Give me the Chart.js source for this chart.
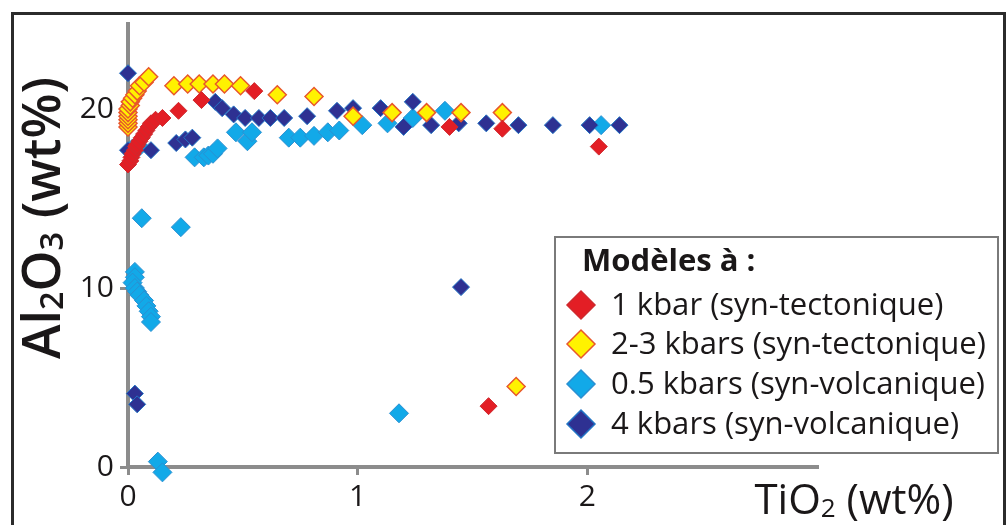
<!DOCTYPE html>
<html>
<head>
<title>Al2O3 vs TiO2</title>
<script src="https://cdn.jsdelivr.net/npm/chart.js"></script>
<style>
  html, body { margin: 0; padding: 0; background: #fff; }
</style>
</head>
<body>
<canvas id="chart" width="1008" height="525"></canvas>

<script>
// values: TiO2 (wt%) on x, Al2O3 (wt%) on y
const kbar1Ti = [0.00, 0.01, 0.015, 0.02, 0.03, 0.035, 0.04, 0.05, 0.06, 0.07, 0.08, 0.09, 0.10, 0.12, 0.15, 0.22, 0.32, 0.55, 1.40, 1.63, 2.05, 1.57];
const kbar1Al = [16.9, 17.1, 17.3, 17.5, 17.7, 17.9, 18.0, 18.2, 18.4, 18.6, 18.8, 19.0, 19.2, 19.4, 19.5, 19.9, 20.5, 21.0, 19.0, 18.9, 17.9, 3.4];

const kbar23Ti = [0.00, 0.00, 0.00, 0.00, 0.00, 0.00, 0.01, 0.01, 0.02, 0.03, 0.04, 0.05, 0.07, 0.09, 0.20, 0.26, 0.31, 0.37, 0.42, 0.49, 0.65, 0.81, 0.98, 1.15, 1.30, 1.45, 1.63, 1.69];
const kbar23Al = [19.0, 19.2, 19.4, 19.6, 19.8, 20.0, 20.2, 20.4, 20.6, 20.8, 21.0, 21.3, 21.5, 21.8, 21.3, 21.4, 21.4, 21.4, 21.4, 21.3, 20.8, 20.7, 19.6, 19.8, 19.8, 19.8, 19.8, 4.5];

const kbar05Ti = [0.02, 0.05, 0.29, 0.33, 0.35, 0.37, 0.39, 0.47, 0.52, 0.54, 0.70, 0.75, 0.81, 0.87, 0.92, 1.02, 1.13, 1.24, 1.38, 2.06,
                  0.06, 0.23, 0.03, 0.03, 0.02, 0.03, 0.04, 0.05, 0.07, 0.08, 0.09, 0.10, 0.10, 1.18, 0.13, 0.15];
const kbar05Al = [17.8, 17.9, 17.3, 17.3, 17.4, 17.5, 17.8, 18.7, 18.2, 18.7, 18.4, 18.4, 18.5, 18.7, 18.8, 19.1, 19.2, 19.5, 19.9, 19.1,
                  13.9, 13.4, 10.9, 10.6, 10.3, 10.0, 9.8, 9.6, 9.3, 9.0, 8.7, 8.4, 8.1, 3.0, 0.3, -0.3];

const kbar4Ti = [0.00, 0.00, 0.10, 0.21, 0.25, 0.28, 0.38, 0.41, 0.46, 0.51, 0.57, 0.62, 0.68, 0.78, 0.91, 0.98, 1.10, 1.20, 1.24, 1.32, 1.44, 1.56, 1.70, 1.85, 2.01, 2.14, 1.45, 0.03, 0.04];
const kbar4Al = [22.0, 17.7, 17.7, 18.1, 18.3, 18.4, 20.4, 20.05, 19.7, 19.5, 19.5, 19.5, 19.5, 19.6, 19.9, 20.05, 20.05, 19.0, 20.4, 19.1, 19.2, 19.2, 19.1, 19.1, 19.1, 19.1, 10.05, 4.1, 3.5];

const seriesLabels = ['1 kbar (syn-tectonique)', '2-3 kbars (syn-tectonique)', '0.5 kbars (syn-volcanique)', '4 kbars (syn-volcanique)'];
const xTicks = [0, 1, 2];
const yTicks = [0, 10, 20];

const FONT = "'Open Sans', 'Noto Sans', sans-serif";
const AXIS_GRAY = '#8c8c8c';
const TEXT = '#1a1718';

function pts(xs, ys) {
  return xs.map((x, i) => ({ x: x, y: ys[i] }));
}

// width of a label whose digits are subscripts
function richText(ctx, parts, size, weight) {
  let w = 0;
  parts.forEach(p => {
    ctx.font = weight + ' ' + (p[1] ? size * 0.62 : size) + 'px ' + FONT;
    w += ctx.measureText(p[0]).width;
  });
  return w;
}
function drawRich(ctx, parts, size, weight, cx, cy) {
  const w = richText(ctx, parts, size, weight);
  let x = cx - w / 2;
  ctx.textBaseline = 'alphabetic';
  ctx.textAlign = 'left';
  parts.forEach(p => {
    ctx.font = weight + ' ' + (p[1] ? size * 0.62 : size) + 'px ' + FONT;
    ctx.fillText(p[0], x, cy + size * 0.36 + (p[1] ? size * 0.06 : 0));
    x += ctx.measureText(p[0]).width;
  });
}
function fitSize(ctx, parts, weight, target) {
  return 40 * target / richText(ctx, parts, 40, weight);
}

function diamond(ctx, x, y, r, fill, stroke, lw) {
  ctx.beginPath();
  ctx.moveTo(x, y - r);
  ctx.lineTo(x + r, y);
  ctx.lineTo(x, y + r);
  ctx.lineTo(x - r, y);
  ctx.closePath();
  ctx.fillStyle = fill;
  ctx.fill();
  ctx.lineWidth = lw;
  ctx.strokeStyle = stroke;
  ctx.stroke();
}

const framePlugin = {
  id: 'frame',
  beforeDraw(chart) {
    const ctx = chart.ctx;
    ctx.save();
    ctx.fillStyle = '#fff';
    ctx.fillRect(0, 0, chart.width, chart.height);
    ctx.restore();
  },
  afterDraw(chart) {
    const ctx = chart.ctx;
    ctx.save();
    ctx.strokeStyle = '#2b2b2b';
    ctx.lineWidth = 3;
    ctx.strokeRect(12.5, 13.5, 992, 600);

    // axis titles
    ctx.fillStyle = TEXT;
    const xt = [['TiO', false], ['2', true], [' (wt%)', false]];
    drawRich(ctx, xt, 42, '400', 854, 499);
    const yt = [['Al', false], ['2', true], ['O', false], ['3', true], [' (wt%)', false]];
    ctx.translate(41, 218);
    ctx.rotate(-Math.PI / 2);
    drawRich(ctx, yt, fitSize(ctx, yt, '600', 282), '600', 0, 0);
    ctx.restore();

    // legend box
    ctx.save();
    ctx.fillStyle = '#fff';
    ctx.fillRect(555, 237, 443, 216);
    ctx.strokeStyle = '#7a7a7a';
    ctx.lineWidth = 2;
    ctx.strokeRect(555, 237, 443, 216);
    ctx.font = '400 40px ' + FONT;
    const ls = 40 * 375 / ctx.measureText(seriesLabels[1]).width;
    ctx.fillStyle = TEXT;
    ctx.textBaseline = 'middle';
    ctx.textAlign = 'left';
    ctx.font = '700 ' + ls + 'px ' + FONT;
    ctx.fillText('Modèles à :', 582, 262);
    ctx.font = '400 ' + ls + 'px ' + FONT;
    const rows = [305, 344, 384, 424];
    chart.data.datasets.forEach((ds, i) => {
      diamond(ctx, 581, rows[i], 14, ds.backgroundColor, ds.borderColor, 1.5);
      ctx.fillStyle = TEXT;
      ctx.fillText(seriesLabels[i], 611, rows[i] + 1);
    });
    ctx.restore();
  }
};

new Chart(document.getElementById('chart'), {
  type: 'scatter',
  data: {
    datasets: [{
      label: seriesLabels[0],
      data: pts(kbar1Ti, kbar1Al),
      pointStyle: 'rectRot',
      pointRadius: 8.5,
      backgroundColor: '#e31e25',
      borderColor: '#cf2a2e',
      borderWidth: 1,
      order: 0,
      clip: false
    }, {
      label: seriesLabels[1],
      data: pts(kbar23Ti, kbar23Al),
      pointStyle: 'rectRot',
      pointRadius: 9,
      backgroundColor: '#fff200',
      borderColor: '#e8572b',
      borderWidth: 1.5,
      order: 1,
      clip: false
    }, {
      label: seriesLabels[2],
      data: pts(kbar05Ti, kbar05Al),
      pointStyle: 'rectRot',
      pointRadius: 9.5,
      backgroundColor: '#12a9e8',
      borderColor: '#2a90d2',
      borderWidth: 1,
      order: 3,
      clip: false
    }, {
      label: seriesLabels[3],
      data: pts(kbar4Ti, kbar4Al),
      pointStyle: 'rectRot',
      pointRadius: 8.5,
      backgroundColor: '#2e3192',
      borderColor: '#2274c4',
      borderWidth: 1,
      order: 2,
      clip: false
    }]
  },
  options: {
    responsive: false,
    animation: false,
    events: [],
    layout: { padding: { top: 14, right: 191, left: 0, bottom: 0 } },
    plugins: {
      legend: { display: false },
      tooltip: { enabled: false }
    },
    scales: {
      x: {
        type: 'linear',
        min: 0,
        max: 3,
        afterFit(s) { s.height = 58; },
        afterBuildTicks(s) { s.ticks = xTicks.map(v => ({ value: v })); },
        ticks: { font: { family: FONT, size: 30 }, color: TEXT, padding: 4 },
        grid: { drawOnChartArea: false, color: AXIS_GRAY, lineWidth: 3, tickLength: 8 },
        border: { color: AXIS_GRAY, width: 4 }
      },
      y: {
        min: 0,
        max: 24.75,
        afterFit(s) { s.width = 128; },
        afterBuildTicks(s) { s.ticks = yTicks.map(v => ({ value: v })); },
        ticks: { font: { family: FONT, size: 30 }, color: TEXT, padding: 6 },
        grid: { drawOnChartArea: false, color: AXIS_GRAY, lineWidth: 3, tickLength: 8 },
        border: { color: AXIS_GRAY, width: 4 }
      }
    }
  },
  plugins: [framePlugin]
});
</script>
</body>
</html>
